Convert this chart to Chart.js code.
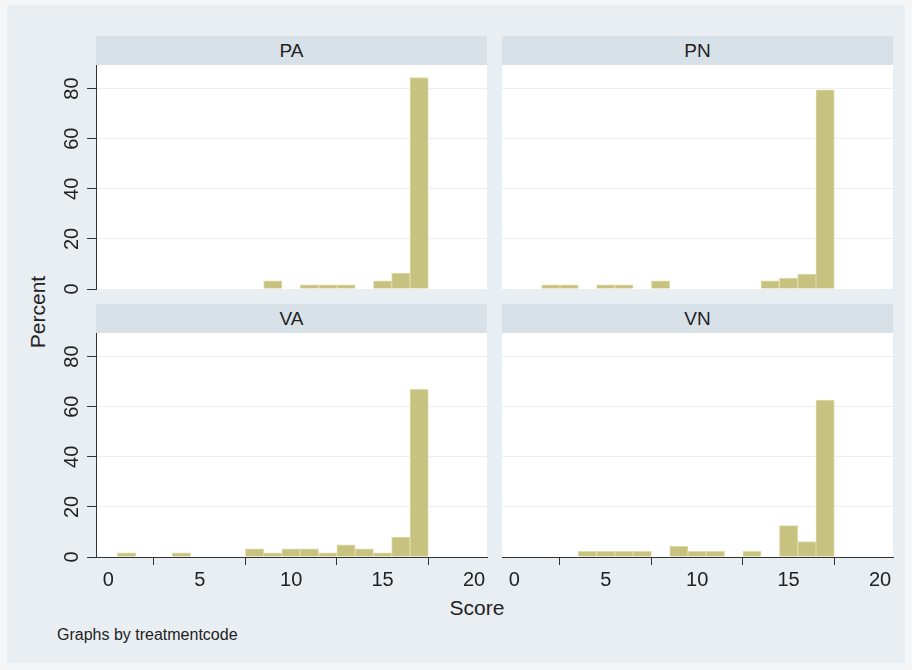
<!DOCTYPE html>
<html>
<head>
<meta charset="utf-8">
<script src="https://cdn.jsdelivr.net/npm/chart.js@4"></script>
<style>
  body { margin: 0; background: #f3f5f7; font-family: "Liberation Sans", Arial, sans-serif; }
  #page { position: relative; width: 912px; height: 670px; overflow: hidden; }
  #bg { position: absolute; left: 7px; top: 5px; width: 898px; height: 658px; background: #e9eef2; }
  .strip { position: absolute; height: 29px; background: #d9e1e8; color: #222; font-size: 19px;
           text-align: center; line-height: 29px; }
  canvas { position: absolute; }
  .lbl { position: absolute; color: #222; white-space: nowrap; }
</style>
</head>
<body>
<div id="page">
  <div id="bg"></div>
  <div class="lbl" style="left:38px;top:312px;font-size:21px;transform:translate(-50%,-50%) rotate(-90deg);">Percent</div>
  <div class="lbl" style="left:477px;top:608px;font-size:21px;transform:translate(-50%,-50%);">Score</div>
  <div class="lbl" style="left:57px;top:626px;font-size:16px;">Graphs by treatmentcode</div>
</div>
<script>
// score bins (one bar per integer score)
const scores = [0,1,2,3,4,5,6,7,8,9,10,11,12,13,14,15,16,17,18,19,20];
// percent per score, by treatment group
const pa = [0,0,0,0,0,0,0,0,0,3.3,0,1.7,1.7,1.7,0,3.3,6.4,84.4,0,0,0];
const pn = [0,0,1.7,1.7,0,1.7,1.7,0,3.3,0,0,0,0,0,3.3,4.4,6.0,79.5,0,0,0];
const va = [0,1.7,0,0,1.7,0,0,0,3.3,1.7,3.3,3.3,1.7,4.9,3.3,1.7,8.0,66.9,0,0,0];
const vn = [0,0,0,0,2.3,2.3,2.3,2.3,0,4.3,2.3,2.3,0,2.3,0,12.5,6.2,62.6,0,0,0];
const groups = ['PA','PN','VA','VN'];
const xTicks = [0,5,10,15,20];
const yTicks = [0,20,40,60,80];

const panels = [
  {name: 'PA', vals: pa, left: 96,  top: 65,  yAxis: true,  xAxis: false},
  {name: 'PN', vals: pn, left: 502, top: 65,  yAxis: false, xAxis: false},
  {name: 'VA', vals: va, left: 96,  top: 333, yAxis: true,  xAxis: true},
  {name: 'VN', vals: vn, left: 502, top: 333, yAxis: false, xAxis: true}
];
const plotW = 391, plotH = 224;
const tickFont = {family: '"Liberation Sans", Arial, sans-serif', size: 20};

const whiteArea = {
  id: 'whiteArea',
  beforeDraw(chart) {
    const a = chart.chartArea, c = chart.ctx;
    c.save();
    c.fillStyle = '#ffffff';
    c.fillRect(a.left, a.top, a.right - a.left, a.bottom - a.top);
    c.restore();
  }
};

const page = document.getElementById('page');
panels.forEach(function(p) {
  // header strip
  const s = document.createElement('div');
  s.className = 'strip';
  s.style.left = p.left + 'px';
  s.style.top = (p.top - 29) + 'px';
  s.style.width = plotW + 'px';
  s.textContent = p.name;
  page.appendChild(s);

  const yw = p.yAxis ? 40 : 0;
  const padL = p.yAxis ? 0 : 10;
  const xh = p.xAxis ? 60 : 0;
  const cv = document.createElement('canvas');
  const w = padL + yw + plotW + 10;
  const h = 20 + plotH + (p.xAxis ? xh : 20);
  cv.width = w; cv.height = h;
  cv.style.left = (p.left - yw - padL) + 'px';
  cv.style.top = (p.top - 20) + 'px';
  cv.style.width = w + 'px'; cv.style.height = h + 'px';
  page.appendChild(cv);

  const pts = [];
  scores.forEach(function(sc, i) { if (p.vals[i] > 0) pts.push({x: sc, y: p.vals[i]}); });

  new Chart(cv.getContext('2d'), {
    type: 'bar',
    data: {
      datasets: [{
        data: pts,
        backgroundColor: '#c8c281',
        borderColor: '#dedba9',
        borderWidth: 1,
        barPercentage: 1,
        categoryPercentage: 1
      }]
    },
    options: {
      responsive: false,
      animation: false,
      devicePixelRatio: 1,
      layout: {padding: {top: 20, right: 10, bottom: p.xAxis ? 0 : 20, left: padL}},
      plugins: {legend: {display: false}, tooltip: {enabled: false}},
      scales: {
        x: {
          type: 'linear',
          display: p.xAxis,
          offset: false,
          min: -0.67, max: 20.71,
          afterBuildTicks: function(sc) { sc.ticks = xTicks.map(v => ({value: v})); },
          afterFit: function(sc) { sc.height = xh; },
          grid: {drawOnChartArea: false, drawTicks: true, tickLength: 8, tickColor: '#333', tickWidth: 1},
          border: {display: true, color: '#333', width: 1},
          ticks: {font: tickFont, color: '#222', padding: 3, maxRotation: 0}
        },
        y: {
          min: 0, max: 89.4,
          afterBuildTicks: function(sc) { sc.ticks = yTicks.map(v => ({value: v})); },
          afterFit: function(sc) { sc.width = yw; },
          grid: {color: '#eceef0', lineWidth: 1, drawTicks: p.yAxis, tickLength: 9, tickColor: '#333'},
          border: {display: p.yAxis, color: '#333', width: 1},
          ticks: {display: p.yAxis, font: tickFont, color: '#222', padding: 3,
                  minRotation: 90, maxRotation: 90, crossAlign: 'center'}
        }
      }
    },
    plugins: [whiteArea]
  });
});
</script>
</body>
</html>
